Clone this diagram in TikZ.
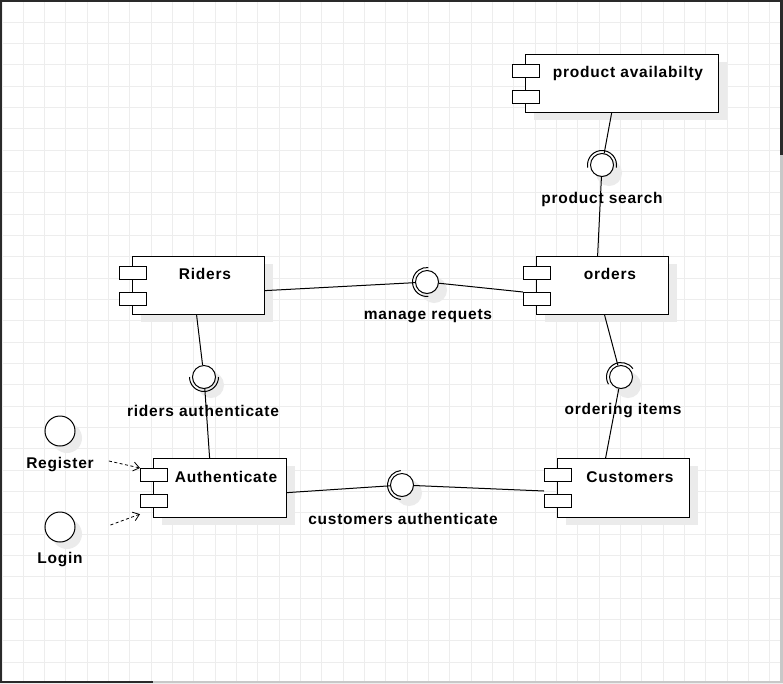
\documentclass[tikz,border=0pt]{standalone}
\usepackage{fontspec}
\newfontfamily\lblfont{Liberation Sans}[LetterSpace=5]
\usetikzlibrary{arrows.meta}
\definecolor{gridc}{HTML}{EDEDED}
\definecolor{shadowc}{HTML}{EBEBEB}
\definecolor{bordc}{HTML}{2A2A2A}
\definecolor{lgrayc}{HTML}{C8C8C8}
\tikzset{
  lbl/.style={font=\lblfont\bfseries\fontsize{15.5}{18}\selectfont, inner sep=0pt, yshift=-2pt},
  compbox/.style={draw=black, fill=white, line width=1.2pt, inner sep=0pt, anchor=north west},
  portbox/.style={draw=black, fill=white, line width=1.1pt, inner sep=0pt, minimum width=27pt, minimum height=13pt, anchor=north west},
  conn/.style={line width=1pt, draw=black},
  ifacec/.style={circle, draw=black, fill=white, line width=1pt, minimum size=23pt, inner sep=0pt},
  actorc/.style={circle, draw=black, fill=white, line width=1pt, minimum size=30pt, inner sep=0pt},
  depend/.style={line width=0.8pt, dash pattern=on 3pt off 2.5pt, -{Straight Barb[length=6pt, width=9pt]}},
}
% name, left, top, right, bottom
\newcommand\compo[5]{%
  \fill[shadowc] (#2+9,#3+8) rectangle (#4+9,#5+8);
  \node[compbox, minimum width={(#4-#2)*1pt}, minimum height={(#5-#3)*1pt}] (#1) at (#2,#3) {};
  \node[portbox] (#1p1) at (#2-13,#3+10) {};
  \node[portbox] (#1p2) at (#2-13,#3+36) {};
}
% name, x, y, arc start, arc end
\newcommand\iface[5]{%
  \fill[shadowc] (#2+7,#3+8) circle (13);
  \draw[line width=1pt] (#2,#3) ++(#4:14.5) arc[start angle=#4, end angle=#5, radius=14.5];
  \node[ifacec] (#1) at (#2,#3) {};
}
\begin{document}
\begin{tikzpicture}[x=1pt,y=-1pt]
\useasboundingbox (0,0) rectangle (783,683);
\fill[white] (0,0) rectangle (783,683);
% grid
\foreach \i in {0,...,36} \draw[gridc, line width=1pt] ({2+21.33*\i},0) -- ({2+21.33*\i},683);
\foreach \i in {0,...,32} \draw[gridc, line width=1pt] (0,{1+21.33*\i}) -- (783,{1+21.33*\i});
% borders
\fill[bordc] (0,0) rectangle (2,683);
\fill[bordc] (0,0) rectangle (783,1.5);
\fill[bordc] (780,0) rectangle (783,155);
\fill[lgrayc] (780,155) rectangle (783,683);
\fill[bordc] (0,681) rectangle (153,683);
\fill[lgrayc] (153,681) rectangle (783,683);

% components
\compo{pa}{525}{54}{718}{112}
\compo{rid}{132}{256}{264}{314}
\compo{ord}{536}{256}{668}{314}
\compo{auth}{153}{458}{286}{517}
\compo{cust}{557}{458}{689}{517}

% interfaces
\iface{ps}{602}{165}{170}{370}
\iface{mr}{427}{282}{85}{275}
\iface{ra}{204}{377}{0}{180}
\iface{oi}{621}{377}{150}{325}
\iface{ca}{402}{485}{95}{265}

% actors
\fill[shadowc] (67,438) circle (15);
\fill[shadowc] (67,534) circle (15);
\node[actorc] (regc) at (60,431) {};
\node[actorc] (logc) at (60,527) {};

% connectors
\draw[conn] ([xshift=-10.5]pa.south) -- (ps);
\draw[conn] (ps) -- ([xshift=-5]ord.north);
\draw[conn] ([yshift=-5]rid.east) -- (mr);
\draw[conn] (mr) -- (ordp2.north west);
\draw[conn] ([xshift=-2]rid.south) -- (ra);
\draw[conn] (ra) -- ([xshift=-10.5]auth.north);
\draw[conn] ([xshift=2]ord.south) -- (oi);
\draw[conn] (oi) -- ([xshift=-18]cust.north);
\draw[conn] ([yshift=-4.5]auth.east) -- (ca);
\draw[conn] (ca) -- ([yshift=3]custp2.north west);

% labels
\node[lbl] (pat) at (628,71) {product availabilty};
\node[lbl] (ridt) at (205,272) {Riders};
\node[lbl] (ordt) at (610,272) {orders};
\node[lbl] (autht) at (226,475) {Authenticate};
\node[lbl] (custt) at (630,475) {Customers};
\node[lbl] (pst) at (602,197) {product search};
\node[lbl] (mrt) at (428,314) {manage requets};
\node[lbl] (rat) at (203,409) {riders authenticate};
\node[lbl] (oit) at (623,409) {ordering items};
\node[lbl] (cat) at (403,517) {customers authenticate};
\node[lbl] (regl) at (60,463) {Register};
\node[lbl] (logl) at (60,558) {Login};

% dependencies
\draw[depend] ([xshift=15,yshift=4]regl.east) -- (authp1.north west);
\draw[depend] ([xshift=35,yshift=2]logc.east) -- ([yshift=-6]authp2.south west);
\end{tikzpicture}
\end{document}
